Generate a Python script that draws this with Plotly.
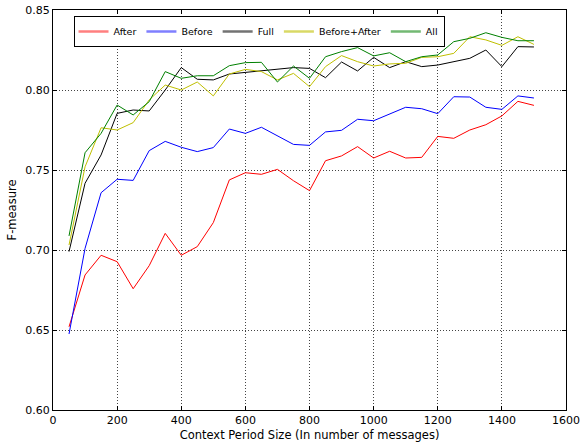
import plotly.graph_objects as go

context_sizes = list(range(50, 1501, 50))

after = [0.652, 0.6844, 0.6967, 0.6927, 0.6758, 0.6902, 0.7104, 0.6967, 0.7021, 0.7171,
         0.7438, 0.7483, 0.7473, 0.7504, 0.7433, 0.7371, 0.7558, 0.7588, 0.7646, 0.7575,
         0.7617, 0.7575, 0.7579, 0.7710, 0.7698, 0.7750, 0.7783, 0.7838, 0.7929, 0.7904]

before = [0.6475, 0.701, 0.7358, 0.7442, 0.7435, 0.7621, 0.7679, 0.7642, 0.7615, 0.7640,
          0.7756, 0.7729, 0.7767, 0.7713, 0.7660, 0.7654, 0.7738, 0.7748, 0.7817, 0.7808,
          0.7850, 0.7892, 0.7883, 0.7852, 0.7958, 0.7956, 0.7892, 0.7879, 0.7963, 0.7950]

full = [0.699, 0.7417, 0.7594, 0.7854, 0.7875, 0.7869, 0.8000, 0.8140, 0.8067, 0.8063,
        0.8100, 0.8110, 0.8121, 0.8129, 0.8140, 0.8135, 0.8077, 0.8175, 0.8119, 0.8204,
        0.8140, 0.8177, 0.8146, 0.8156, 0.8177, 0.8198, 0.8250, 0.8146, 0.8271, 0.8269]

before_after = [0.7031, 0.7520, 0.7764, 0.7750, 0.7796, 0.7938, 0.8031, 0.8000, 0.8050, 0.7963,
                0.8100, 0.8129, 0.8115, 0.8063, 0.8104, 0.8021, 0.8146, 0.8215, 0.8177, 0.8150,
                0.8163, 0.8167, 0.8204, 0.8208, 0.8229, 0.8333, 0.8313, 0.8279, 0.8333, 0.8285]

all_feats = [0.7088, 0.7608, 0.7729, 0.7906, 0.7844, 0.7927, 0.8115, 0.8073, 0.8089, 0.8089,
             0.8152, 0.8171, 0.8173, 0.8050, 0.8150, 0.8073, 0.8208, 0.8240, 0.8265, 0.8213,
             0.8233, 0.8177, 0.8208, 0.8219, 0.8302, 0.8323, 0.8358, 0.8329, 0.8308, 0.8308]

series = [
    ("After", after, "#ff0000", "rgba(255,0,0,0.5)"),
    ("Before", before, "#0000ff", "rgba(0,0,255,0.5)"),
    ("Full", full, "#000000", "rgba(0,0,0,0.55)"),
    ("Before+After", before_after, "#bfbf00", "rgba(191,191,0,0.6)"),
    ("All", all_feats, "#008000", "rgba(0,128,0,0.55)"),
]

x_ticks = [0, 200, 400, 600, 800, 1000, 1200, 1400, 1600]
y_ticks = [0.60, 0.65, 0.70, 0.75, 0.80, 0.85]

FONT = "DejaVu Sans"

fig = go.Figure()
for name, vals, color, legend_color in series:
    fig.add_trace(go.Scatter(x=context_sizes, y=vals, mode="lines", name=name,
                             legendgroup=name, showlegend=False,
                             line=dict(color=color, width=1)))
for name, vals, color, legend_color in series:
    # legend-only entry (pale, thicker sample like the original legend)
    fig.add_trace(go.Scatter(x=[None], y=[None], mode="lines", name=name,
                             legendgroup=name, showlegend=True,
                             line=dict(color=legend_color, width=2.5)))

axis_common = dict(
    showline=True, linecolor="black", linewidth=1, mirror="ticks",
    ticks="inside", ticklen=4, tickcolor="black",
    showgrid=True, gridcolor="#444444", griddash="1px,2px", gridwidth=1,
    zeroline=False, automargin=False,
    tickfont=dict(family=FONT, size=11, color="black"),
)

fig.update_xaxes(range=[0, 1600], tickvals=x_ticks, ticktext=[str(v) for v in x_ticks],
                 title=dict(text="Context Period Size (In number of messages)",
                            font=dict(family=FONT, size=11.5, color="black"), standoff=4),
                 **axis_common)
fig.update_yaxes(range=[0.60, 0.85], tickvals=y_ticks, ticktext=[f"{v:.2f}" for v in y_ticks],
                 title=dict(text="F-measure",
                            font=dict(family=FONT, size=11.5, color="black"), standoff=6),
                 **axis_common)

fig.update_layout(
    width=582, height=444,
    margin=dict(l=53, r=16, t=10, b=34, autoexpand=False),
    paper_bgcolor="white", plot_bgcolor="white",
    font=dict(family=FONT, size=11, color="black"),
    legend=dict(orientation="h", x=0.04, y=0.985, xanchor="left", yanchor="top",
                bgcolor="white", bordercolor="black", borderwidth=1,
                font=dict(family=FONT, size=9.5, color="black"),
                itemwidth=30, tracegroupgap=0),
    showlegend=True,
    hovermode=False,
)

fig.write_html("out.html",
               config={"displayModeBar": False, "staticPlot": True},
               post_script="document.body.style.margin='0';document.body.style.padding='0';")
